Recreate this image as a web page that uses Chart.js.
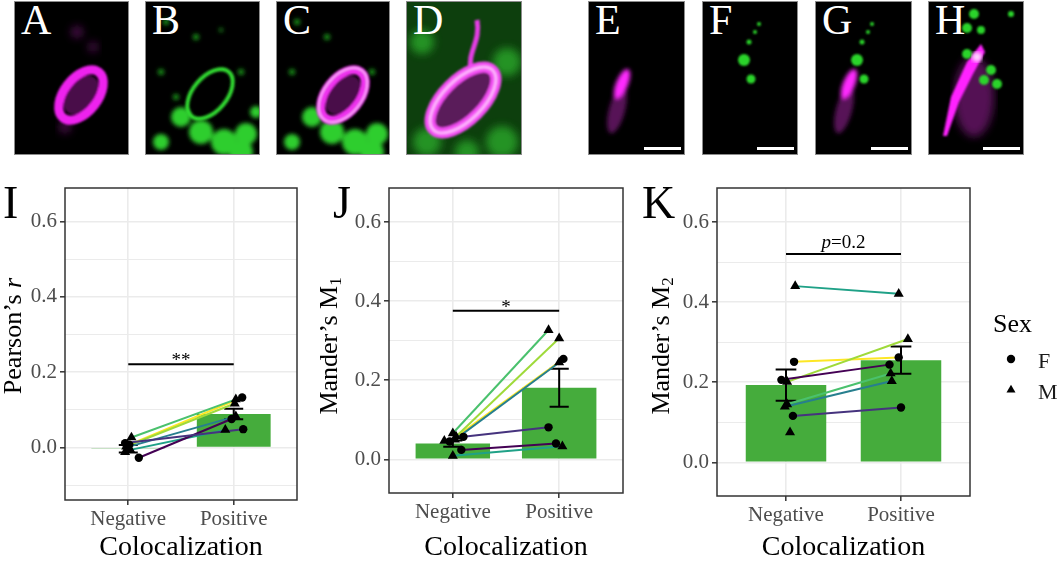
<!DOCTYPE html>
<html>
<head>
<meta charset="utf-8">
<script src="https://cdn.jsdelivr.net/npm/chart.js@4.4.1/dist/chart.umd.min.js"></script>
<style>
  body { margin:0; background:#fff; width:1059px; height:562px; overflow:hidden; position:relative;
         font-family:'Liberation Serif','DejaVu Serif',serif; }
  .img { position:absolute; top:1px; height:154px; background:#000; border:1px solid #8c8c8c; box-sizing:border-box; overflow:hidden; }
  .img svg { position:absolute; left:0; top:0; }
  .img .lt { position:absolute; left:6px; top:-6px; color:#fff; font-size:42px; line-height:48px; }
  .img .sb { position:absolute; right:3px; bottom:4px; width:37px; height:3px; background:#fff; }
  canvas { position:absolute; top:170px; }
  .ytitle { position:absolute; transform:translate(-50%,-50%) rotate(-90deg); white-space:nowrap; font-size:26px; color:#000; }
  .ytitle sub { font-size:0.65em; vertical-align:-0.2em; }
  .plab { position:absolute; top:180px; font-size:46px; line-height:46px; color:#000; }
</style>
</head>
<body>

<svg width="0" height="0" style="position:absolute">
  <defs>
    <filter id="b1"><feGaussianBlur stdDeviation="1"/></filter>
    <filter id="b2"><feGaussianBlur stdDeviation="2"/></filter>
    <filter id="b4"><feGaussianBlur stdDeviation="4"/></filter>
  </defs>
</svg>

<!-- ── Microscopy panels (decoration only) ── -->
<div class="img" style="left:14px;width:115px">
  <svg width="115" height="154">
    <g filter="url(#b4)" fill="#6a126a" opacity=".7">
      <circle cx="62" cy="30" r="6"/><circle cx="78" cy="45" r="5"/><circle cx="50" cy="125" r="6"/>
    </g>
    <g filter="url(#b1)">
      <ellipse cx="66" cy="93" rx="14" ry="22" transform="rotate(38 66 93)" fill="#4a0c4a"/>
      <ellipse cx="66" cy="93" rx="17" ry="29" transform="rotate(38 66 93)" fill="none" stroke="#ee22ee" stroke-width="9"/>
    </g>
  </svg>
  <div class="lt">A</div>
</div>

<div class="img" style="left:145px;width:115px">
  <svg width="115" height="154">
    <g filter="url(#b2)" fill="#1f9f1f">
      <circle cx="20" cy="20" r="3"/><circle cx="50" cy="35" r="3"/><circle cx="75" cy="28" r="2"/><circle cx="15" cy="70" r="3"/>
      <circle cx="95" cy="70" r="3"/><circle cx="30" cy="95" r="3"/>
    </g>
    <g filter="url(#b2)" fill="#2fce2f">
      <circle cx="35" cy="115" r="10"/><circle cx="55" cy="130" r="12"/><circle cx="78" cy="140" r="13"/>
      <circle cx="100" cy="132" r="11"/><circle cx="95" cy="150" r="12"/><circle cx="15" cy="140" r="8"/><circle cx="110" cy="110" r="6"/>
    </g>
    <ellipse cx="64" cy="92" rx="17" ry="29" transform="rotate(40 64 92)" fill="none" stroke="#33dd33" stroke-width="4" filter="url(#b1)"/>
  </svg>
  <div class="lt">B</div>
</div>

<div class="img" style="left:276px;width:114px">
  <svg width="114" height="154">
    <g filter="url(#b2)" fill="#1f9f1f">
      <circle cx="20" cy="20" r="3"/><circle cx="50" cy="35" r="3"/><circle cx="15" cy="70" r="3"/><circle cx="95" cy="70" r="3"/>
    </g>
    <g filter="url(#b2)" fill="#2fce2f">
      <circle cx="35" cy="115" r="10"/><circle cx="55" cy="130" r="12"/><circle cx="78" cy="140" r="13"/>
      <circle cx="100" cy="132" r="11"/><circle cx="95" cy="150" r="12"/><circle cx="15" cy="140" r="8"/>
    </g>
    <g filter="url(#b1)">
      <ellipse cx="66" cy="93" rx="14" ry="22" transform="rotate(38 66 93)" fill="#4a0c4a"/>
      <ellipse cx="66" cy="93" rx="17" ry="29" transform="rotate(38 66 93)" fill="none" stroke="#ee33ee" stroke-width="9"/>
      <ellipse cx="66" cy="93" rx="19" ry="31" transform="rotate(38 66 93)" fill="none" stroke="#ffd8ff" stroke-width="2" opacity=".7"/>
    </g>
  </svg>
  <div class="lt">C</div>
</div>

<div class="img" style="left:406px;width:116px">
  <svg width="116" height="154">
    <rect width="116" height="154" fill="#0d3f0d"/>
    <g filter="url(#b4)" fill="#29a829" opacity=".8">
      <circle cx="15" cy="40" r="12"/><circle cx="100" cy="60" r="14"/><circle cx="20" cy="140" r="14"/>
      <circle cx="95" cy="140" r="16"/><circle cx="60" cy="150" r="12"/>
    </g>
    <g filter="url(#b1)">
      <path d="M64 68 C 60 50, 74 40, 70 18" fill="none" stroke="#e43ce4" stroke-width="5"/>
      <ellipse cx="56" cy="98" rx="16" ry="38" transform="rotate(45 56 98)" fill="#5a1a5a"/>
      <ellipse cx="56" cy="98" rx="20" ry="42" transform="rotate(45 56 98)" fill="none" stroke="#f24ef2" stroke-width="11"/>
      <ellipse cx="56" cy="98" rx="20" ry="42" transform="rotate(45 56 98)" fill="none" stroke="#ffd0ff" stroke-width="3" opacity=".8"/>
    </g>
  </svg>
  <div class="lt">D</div>
</div>

<div class="img" style="left:588px;width:97px">
  <svg width="97" height="154">
    <g filter="url(#b2)">
      <ellipse cx="28" cy="108" rx="8" ry="24" transform="rotate(15 28 108)" fill="#7c187c" opacity=".7"/>
      <ellipse cx="33" cy="82" rx="6" ry="16" transform="rotate(22 33 82)" fill="#ff2cff"/>
    </g>
  </svg>
  <div class="lt">E</div><div class="sb"></div>
</div>

<div class="img" style="left:702px;width:96px">
  <svg width="96" height="154">
    <g filter="url(#b1)" fill="#2ad42a">
      <circle cx="41" cy="58" r="6"/><circle cx="48" cy="77" r="4.5"/><circle cx="46" cy="40" r="2.5"/>
      <circle cx="52" cy="30" r="2"/><circle cx="56" cy="22" r="2"/>
    </g>
  </svg>
  <div class="lt">F</div><div class="sb"></div>
</div>

<div class="img" style="left:815px;width:97px">
  <svg width="97" height="154">
    <g filter="url(#b2)">
      <ellipse cx="28" cy="108" rx="8" ry="24" transform="rotate(15 28 108)" fill="#7c187c" opacity=".7"/>
      <ellipse cx="33" cy="82" rx="6" ry="16" transform="rotate(22 33 82)" fill="#ff2cff"/>
    </g>
    <g filter="url(#b1)" fill="#2ad42a">
      <circle cx="41" cy="58" r="6"/><circle cx="48" cy="77" r="4.5"/><circle cx="46" cy="40" r="2.5"/>
      <circle cx="52" cy="30" r="2"/><circle cx="56" cy="22" r="2"/>
    </g>
  </svg>
  <div class="lt">G</div><div class="sb"></div>
</div>

<div class="img" style="left:928px;width:96px">
  <svg width="96" height="154">
    <g filter="url(#b4)" fill="#6a126a" opacity=".8">
      <ellipse cx="45" cy="95" rx="20" ry="40"/>
    </g>
    <g filter="url(#b1)">
      <path d="M14 134 L 22 95 L 38 60 L 52 42 L 56 50 L 44 72 L 30 100 L 18 134 Z" fill="#ff22ff"/>
    </g>
    <g filter="url(#b1)" fill="#2ad42a">
      <circle cx="45" cy="12" r="5"/><circle cx="38" cy="26" r="5"/><circle cx="52" cy="28" r="4"/>
      <circle cx="38" cy="52" r="5"/><circle cx="62" cy="68" r="5"/><circle cx="55" cy="78" r="5"/>
      <circle cx="68" cy="82" r="5"/><circle cx="82" cy="12" r="3"/>
    </g>
    <circle cx="48" cy="55" r="5" fill="#ffd8ff" filter="url(#b2)"/>
  </svg>
  <div class="lt">H</div><div class="sb"></div>
</div>

<!-- ── Chart panels ── -->
<canvas id="chartI" width="305" height="392" style="left:0px"></canvas>
<canvas id="chartJ" width="310" height="392" style="left:320px"></canvas>
<canvas id="chartK" width="409" height="392" style="left:650px"></canvas>

<div class="plab" style="left:3px">I</div>
<div class="plab" style="left:333px">J</div>
<div class="plab" style="left:642px">K</div>

<div class="ytitle" style="left:13px;top:336px">Pearson’s <i>r</i></div>
<div class="ytitle" style="left:330px;top:346px">Mander’s M<sub>1</sub></div>
<div class="ytitle" style="left:662px;top:346px">Mander’s M<sub>2</sub></div>

<script>
// ============================================================
// Colocalization panels I, J, K
// ============================================================

// ── Data ──
const categories = ['Negative', 'Positive'];
const xTitle = 'Colocalization';

// one colour + sex per animal (viridis order)
const subjectColors = ['#46337E', '#440154', '#365C8D', '#277F8E', '#1FA187', '#4AC16D', '#9FDA3A', '#FDE725'];
const subjectSex    = ['F', 'F', 'M', 'M', 'M', 'M', 'M', 'F'];

const yTicksMajor = [0, 0.2, 0.4, 0.6];
const yTicksMinor = [-0.1, 0.1, 0.3, 0.5];

// I — Pearson's r
const pearsonNeg    = [0.012, -0.027, -0.012, 0.002, -0.006, 0.027, 0.003, 0.008];
const pearsonPos    = [0.049, 0.076, null, 0.083, 0.047, 0.128, 0.117, 0.133];
const pearsonMean   = [-0.003, 0.089];
const pearsonSE     = [0.010, 0.014];
const pearsonJitNeg = [-0.03, 0.10, -0.03, 0.0, 0.02, 0.03, -0.02, 0.01];
const pearsonJitPos = [0.09, -0.02, 0, 0.02, -0.08, 0.02, 0.01, 0.08];
const pearsonSig    = 0.221;
const pearsonSigTxt = '**';

// J — Mander's M1
const m1Neg    = [0.057, 0.024, 0.047, 0.050, 0.009, 0.066, 0.058, 0.045];
const m1Pos    = [0.081, 0.040, null, 0.245, 0.033, 0.327, 0.306, 0.254];
const m1Mean   = [0.040, 0.181];
const m1SE     = [0.008, 0.048];
const m1JitNeg = [0.10, 0.08, -0.08, 0.02, 0.0, 0.0, 0.03, -0.03];
const m1JitPos = [-0.10, -0.03, 0, 0.0, 0.03, -0.10, 0.0, 0.04];
const m1Sig    = 0.376;
const m1SigTxt = '*';

// K — Mander's M2
const m2Neg    = [0.116, 0.206, 0.075, 0.139, 0.440, 0.145, 0.201, 0.251];
const m2Pos    = [0.137, 0.244, null, 0.203, 0.421, 0.222, 0.308, 0.262];
const m2Mean   = [0.193, 0.255];
const m2SE     = [0.039, 0.034];
const m2JitNeg = [0.06, -0.04, 0.035, -0.01, 0.08, 0.01, 0.01, 0.07];
const m2JitPos = [0.0, -0.10, 0, -0.08, -0.02, -0.09, 0.06, -0.02];
const m2Sig    = 0.52;
const m2SigTxt = 'p=0.2';

const SERIF = "'Liberation Serif', 'DejaVu Serif', serif";
const BAR_GREEN = '#45AC3C';
const GRID = '#EBEBEB';

Chart.defaults.font.family = SERIF;

function isMajor(v) {
  return yTicksMajor.some(t => Math.abs(t - v) < 1e-6);
}

function drawMarker(ctx, style, r, x, y) {
  if (Chart.helpers && Chart.helpers.drawPoint) {
    Chart.helpers.drawPoint(ctx, { pointStyle: style, radius: r, rotation: 0, borderWidth: 0 }, x, y);
    return;
  }
  ctx.beginPath();
  if (style === 'triangle') {
    ctx.moveTo(x, y - r);
    ctx.lineTo(x + r * 0.866, y + r / 2);
    ctx.lineTo(x - r * 0.866, y + r / 2);
    ctx.closePath();
  } else {
    ctx.arc(x, y, r, 0, Math.PI * 2);
  }
  ctx.fill();
}

// ── error bars, significance bar, frame, legend ──
const panelExtras = {
  id: 'panelExtras',
  afterDatasetDraw(chart, args, o) {
    if (args.meta.type !== 'bar') return;
    const { ctx, scales: { x, y } } = chart;
    const half = x.getPixelForValue(1 + o.capWidth / 2) - x.getPixelForValue(1);
    ctx.save();
    ctx.strokeStyle = '#000';
    ctx.lineWidth = 2;
    o.means.forEach((m, i) => {
      const cx = x.getPixelForValue(i + 1);
      const top = y.getPixelForValue(m + o.se[i]);
      const bot = y.getPixelForValue(m - o.se[i]);
      ctx.beginPath();
      ctx.moveTo(cx, top); ctx.lineTo(cx, bot);
      ctx.moveTo(cx - half, top); ctx.lineTo(cx + half, top);
      ctx.moveTo(cx - half, bot); ctx.lineTo(cx + half, bot);
      ctx.stroke();
    });
    ctx.restore();
  },
  afterDatasetsDraw(chart, args, o) {
    const { ctx, chartArea: a, scales: { x, y } } = chart;
    ctx.save();

    // significance bracket
    const x1 = x.getPixelForValue(1), x2 = x.getPixelForValue(2);
    const sy = y.getPixelForValue(o.sigY);
    ctx.strokeStyle = '#000';
    ctx.lineWidth = 2;
    ctx.beginPath(); ctx.moveTo(x1, sy); ctx.lineTo(x2, sy); ctx.stroke();

    ctx.fillStyle = '#000';
    ctx.textBaseline = 'alphabetic';
    const cx = (x1 + x2) / 2;
    const txt = o.sigText;
    if (txt.startsWith('p')) {
      ctx.font = `italic 19px ${SERIF}`;
      const wp = ctx.measureText('p').width;
      ctx.font = `19px ${SERIF}`;
      const rest = txt.slice(1);
      const wr = ctx.measureText(rest).width;
      const sx = cx - (wp + wr) / 2;
      ctx.font = `italic 19px ${SERIF}`;
      ctx.fillText('p', sx, sy - 6);
      ctx.font = `19px ${SERIF}`;
      ctx.fillText(rest, sx + wp, sy - 6);
    } else {
      ctx.font = `19px ${SERIF}`;
      ctx.textAlign = 'center';
      ctx.fillText(txt, cx, sy + 2);
    }

    // panel frame
    ctx.strokeStyle = '#333';
    ctx.lineWidth = 1.5;
    ctx.strokeRect(a.left, a.top, a.right - a.left, a.bottom - a.top);

    // legend (Sex)
    if (o.legend) {
      const mid = (a.top + a.bottom) / 2;
      ctx.textAlign = 'left';
      ctx.fillStyle = '#000';
      ctx.font = `26px ${SERIF}`;
      ctx.fillText('Sex', a.right + 23, mid - 10);
      ctx.font = `22px ${SERIF}`;
      chart.data.datasets.filter(d => d.label === 'F' || d.label === 'M').forEach((d, i) => {
        const ly = mid + 17 + i * 31;
        ctx.fillStyle = '#000';
        drawMarker(ctx, d.pointStyle, d.label === 'M' ? 5.2 : 4.2, a.right + 41, ly);
        ctx.fillStyle = '#1a1a1a';
        ctx.fillText(d.label, a.right + 68, ly + 9);
      });
    }
    ctx.restore();
  }
};

// ── Build one panel ──
function buildPanel(id, neg, pos, jitNeg, jitPos, means, se, yRange, sigY, sigText, lay, legend) {
  const tickFont  = { family: SERIF, size: 21 };
  const titleFont = { family: SERIF, size: 28, lineHeight: 1.05 };

  const lines = [];
  subjectColors.forEach((c, i) => {
    if (pos[i] === null) return;
    lines.push({
      type: 'line', label: '',
      data: [{ x: 1 + jitNeg[i], y: neg[i] }, { x: 2 + jitPos[i], y: pos[i] }],
      borderColor: c, borderWidth: 2, pointRadius: 0, order: 5
    });
  });

  const pointsFor = sex => {
    const out = [];
    subjectSex.forEach((s, i) => {
      if (s !== sex) return;
      out.push({ x: 1 + jitNeg[i], y: neg[i] });
      if (pos[i] !== null) out.push({ x: 2 + jitPos[i], y: pos[i] });
    });
    return out;
  };

  return new Chart(document.getElementById(id), {
    type: 'bar',
    data: {
      datasets: [
        {
          type: 'bar', label: '',
          data: means.map((m, i) => ({ x: i + 1, y: m })),
          backgroundColor: BAR_GREEN, borderWidth: 0,
          barPercentage: 0.7, categoryPercentage: 1, order: 10
        },
        ...lines,
        { type: 'scatter', label: 'F', data: pointsFor('F'), pointStyle: 'circle',
          pointRadius: 4.2, backgroundColor: '#000', borderColor: '#000', borderWidth: 0, order: 1 },
        { type: 'scatter', label: 'M', data: pointsFor('M'), pointStyle: 'triangle',
          pointRadius: 5.8, backgroundColor: '#000', borderColor: '#000', borderWidth: 0, order: 1 }
      ]
    },
    options: {
      responsive: false,
      animation: false,
      font: { family: SERIF },
      layout: { padding: { top: lay.top, right: lay.right, bottom: 0, left: 0 } },
      plugins: {
        legend: { display: false },
        tooltip: { enabled: false },
        panelExtras: { means, se, capWidth: 0.18, sigY, sigText, legend }
      },
      scales: {
        x: {
          type: 'linear', min: 0.4, max: 2.6, offset: false,
          afterBuildTicks: s => { s.ticks = categories.map((c, i) => ({ value: i + 1 })); },
          afterFit: s => { s.height = lay.xHeight; },
          ticks: {
            autoSkip: false, maxRotation: 0, padding: 2,
            color: '#4D4D4D', font: tickFont,
            callback: (v, i) => categories[i]
          },
          grid: { offset: false, color: GRID, lineWidth: 1.6, tickColor: '#333', tickLength: 5, tickWidth: 1.5 },
          border: { display: false },
          title: { display: true, text: xTitle, color: '#000', font: titleFont, padding: 0 }
        },
        y: {
          min: yRange[0], max: yRange[1],
          afterBuildTicks: s => {
            s.ticks = [...yTicksMinor, ...yTicksMajor]
              .filter(v => v >= s.min && v <= s.max)
              .sort((a, b) => a - b)
              .map(v => ({ value: v }));
          },
          afterFit: s => { s.width = lay.yWidth; },
          ticks: {
            autoSkip: false, padding: 3,
            color: '#4D4D4D', font: tickFont,
            callback: v => isMajor(v) ? v.toFixed(1) : ''
          },
          grid: {
            color: GRID,
            lineWidth: c => isMajor(c.tick.value) ? 1.6 : 1.1,
            tickColor: c => isMajor(c.tick.value) ? '#333' : 'rgba(0,0,0,0)',
            tickLength: 5, tickWidth: 1.5
          },
          border: { display: false }
        }
      }
    },
    plugins: [panelExtras]
  });
}

// ── Init ──
buildPanel('chartI', pearsonNeg, pearsonPos, pearsonJitNeg, pearsonJitPos, pearsonMean, pearsonSE,
  [-0.139, 0.689], pearsonSig, pearsonSigTxt, { top: 18, right: 8, yWidth: 65, xHeight: 62 }, false);

buildPanel('chartJ', m1Neg, m1Pos, m1JitNeg, m1JitPos, m1Mean, m1SE,
  [-0.085, 0.686], m1Sig, m1SigTxt, { top: 18, right: 7, yWidth: 69, xHeight: 69 }, false);

buildPanel('chartK', m2Neg, m2Pos, m2JitNeg, m2JitPos, m2Mean, m2SE,
  [-0.084, 0.685], m2Sig, m2SigTxt, { top: 18, right: 89, yWidth: 67, xHeight: 66 }, true);
</script>
</body>
</html>
